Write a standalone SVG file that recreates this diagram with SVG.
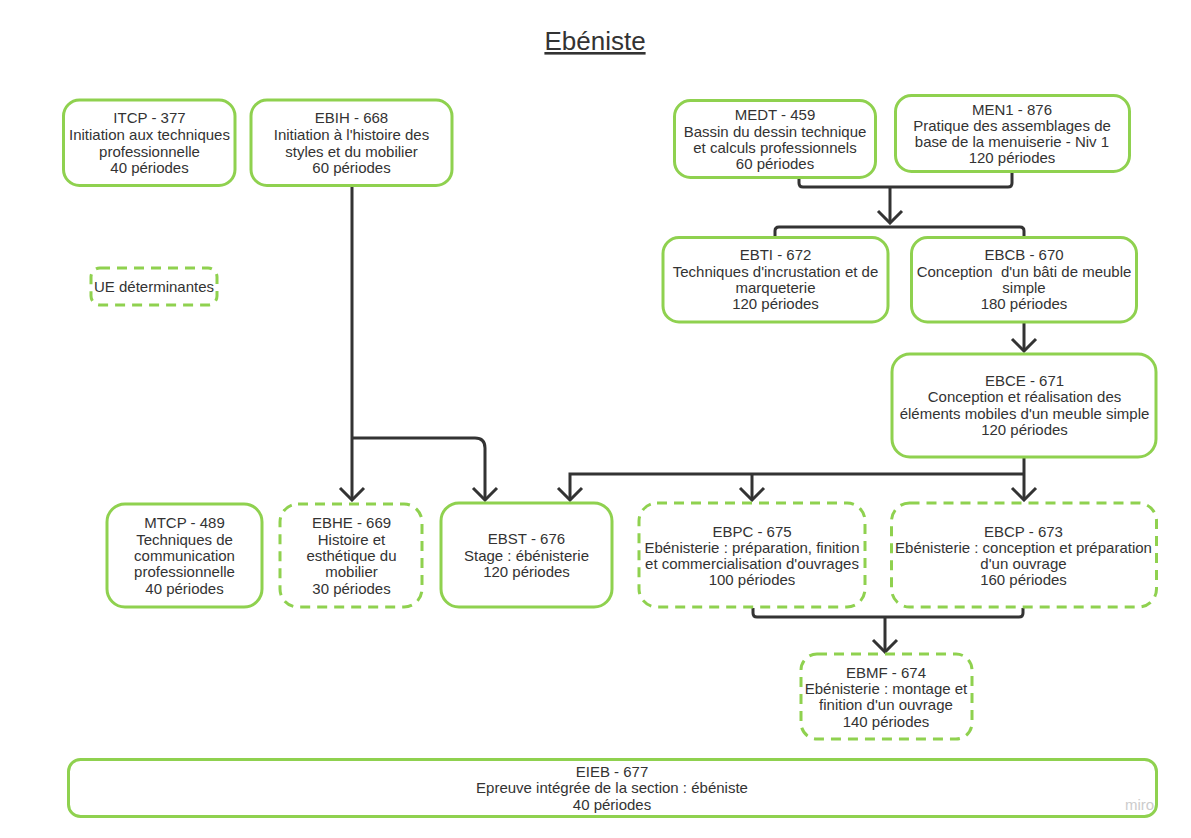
<svg xmlns="http://www.w3.org/2000/svg" width="1191" height="838" viewBox="0 0 1191 838">
<style>
  .box{fill:#ffffff;stroke:#8fd14f;stroke-width:3}
  .dash{fill:#ffffff;stroke:#8fd14f;stroke-width:3;stroke-dasharray:10 7}
  .t{font-family:"Liberation Sans",Arial,sans-serif;font-size:15px;fill:#333333;text-anchor:middle;white-space:pre}
  .title{font-family:"Liberation Sans",Arial,sans-serif;font-size:26px;fill:#333333;text-anchor:middle;text-decoration:underline}
  .wire{fill:none;stroke:#333333;stroke-width:3}
</style>
<defs>
  <marker id="arr" viewBox="-14 -14 16 28" refX="0" refY="0" markerWidth="16" markerHeight="28" markerUnits="userSpaceOnUse" orient="auto">
    <path d="M -12 -12 L 0 0 L -12 12" fill="none" stroke="#333333" stroke-width="3"/>
  </marker>
</defs>
<rect width="1191" height="838" fill="#ffffff"/>
<text class="title" x="595" y="50">Ebéniste</text>

<g id="connectors">
  <path class="wire" d="M 799 179 V 183 Q 799 187 803 187 H 1008 Q 1012 187 1012 183 V 173"/>
  <path class="wire" d="M 890 187 V 223" marker-end="url(#arr)"/>
  <path class="wire" d="M 775 236 V 231 Q 775 227 779 227 H 1020 Q 1024 227 1024 231 V 236"/>
  <path class="wire" d="M 1024 323 V 351" marker-end="url(#arr)"/>
  <path class="wire" d="M 1024 458 V 500" marker-end="url(#arr)"/>
  <path class="wire" d="M 1024 474 H 570 V 500" marker-end="url(#arr)"/>
  <path class="wire" d="M 752 474 V 500" marker-end="url(#arr)"/>
  <path class="wire" d="M 352 186 V 500" marker-end="url(#arr)"/>
  <path class="wire" d="M 352 438 H 475 Q 485 438 485 448 V 500" marker-end="url(#arr)"/>
  <path class="wire" d="M 753 608 V 613 Q 753 617 757 617 H 1019 Q 1023 617 1023 613 V 608"/>
  <path class="wire" d="M 885 617 V 652" marker-end="url(#arr)"/>
</g>

<g id="ITCP">
  <rect class="box" x="63.5" y="100" width="171.5" height="85.5" rx="16"/>
  <text class="t" x="149.5" y="123">ITCP - 377</text>
  <text class="t" x="149.5" y="140">Initiation aux techniques</text>
  <text class="t" x="149.5" y="157">professionnelle</text>
  <text class="t" x="149.5" y="173">40 périodes</text>
</g>
<g id="EBIH">
  <rect class="box" x="251" y="100" width="201" height="85.5" rx="16"/>
  <text class="t" x="351.5" y="123">EBIH - 668</text>
  <text class="t" x="351.5" y="140">Initiation à l'histoire des</text>
  <text class="t" x="351.5" y="157">styles et du mobilier</text>
  <text class="t" x="351.5" y="173">60 périodes</text>
</g>
<g id="MEDT">
  <rect class="box" x="674.5" y="100.5" width="201" height="77" rx="16"/>
  <text class="t" x="775" y="120">MEDT - 459</text>
  <text class="t" x="775" y="137">Bassin du dessin technique</text>
  <text class="t" x="775" y="153">et calculs professionnels</text>
  <text class="t" x="775" y="169">60 périodes</text>
</g>
<g id="MEN1">
  <rect class="box" x="895.5" y="95.5" width="234" height="76" rx="16"/>
  <text class="t" x="1012" y="115">MEN1 - 876</text>
  <text class="t" x="1012" y="131">Pratique des assemblages de</text>
  <text class="t" x="1012" y="147">base de la menuiserie - Niv 1</text>
  <text class="t" x="1012" y="163">120 périodes</text>
</g>
<g id="EBTI">
  <rect class="box" x="663" y="237.5" width="225" height="84.5" rx="16"/>
  <text class="t" x="775.5" y="260">EBTI - 672</text>
  <text class="t" x="775.5" y="277">Techniques d'incrustation et de</text>
  <text class="t" x="775.5" y="293">marqueterie</text>
  <text class="t" x="775.5" y="309">120 périodes</text>
</g>
<g id="EBCB">
  <rect class="box" x="911.5" y="237.5" width="225" height="84.5" rx="16"/>
  <text class="t" x="1024" y="260">EBCB - 670</text>
  <text class="t" x="1024" y="277">Conception  d'un bâti de meuble</text>
  <text class="t" x="1024" y="293">simple</text>
  <text class="t" x="1024" y="309">180 périodes</text>
</g>
<g id="EBCE">
  <rect class="box" x="892" y="354" width="264" height="103" rx="18"/>
  <text class="t" x="1024.5" y="386">EBCE - 671</text>
  <text class="t" x="1024.5" y="402">Conception et réalisation des</text>
  <text class="t" x="1024.5" y="419">éléments mobiles d'un meuble simple</text>
  <text class="t" x="1024.5" y="435">120 périodes</text>
</g>
<g id="UE">
  <rect class="dash" x="91" y="268" width="126" height="37" rx="9"/>
  <text class="t" x="154" y="292">UE déterminantes</text>
</g>
<g id="MTCP">
  <rect class="box" x="107" y="504" width="155" height="103" rx="18"/>
  <text class="t" x="184.5" y="528">MTCP - 489</text>
  <text class="t" x="184.5" y="545">Techniques de</text>
  <text class="t" x="184.5" y="561">communication</text>
  <text class="t" x="184.5" y="577">professionnelle</text>
  <text class="t" x="184.5" y="594">40 périodes</text>
</g>
<g id="EBHE">
  <rect class="dash" x="280" y="504" width="142" height="103" rx="18"/>
  <text class="t" x="351.5" y="528">EBHE - 669</text>
  <text class="t" x="351.5" y="545">Histoire et</text>
  <text class="t" x="351.5" y="561">esthétique du</text>
  <text class="t" x="351.5" y="577">mobilier</text>
  <text class="t" x="351.5" y="594">30 périodes</text>
</g>
<g id="EBST">
  <rect class="box" x="441" y="503" width="171" height="104" rx="18"/>
  <text class="t" x="526.5" y="544">EBST - 676</text>
  <text class="t" x="526.5" y="561">Stage : ébénisterie</text>
  <text class="t" x="526.5" y="577">120 périodes</text>
</g>
<g id="EBPC">
  <rect class="dash" x="639" y="503" width="226" height="104" rx="18"/>
  <text class="t" x="752" y="537">EBPC - 675</text>
  <text class="t" x="752" y="553">Ebénisterie : préparation, finition</text>
  <text class="t" x="752" y="569">et commercialisation d'ouvrages</text>
  <text class="t" x="752" y="585">100 périodes</text>
</g>
<g id="EBCP">
  <rect class="dash" x="891.5" y="503" width="265" height="104" rx="18"/>
  <text class="t" x="1023.5" y="537">EBCP - 673</text>
  <text class="t" x="1023.5" y="553">Ebénisterie : conception et préparation</text>
  <text class="t" x="1023.5" y="569">d'un ouvrage</text>
  <text class="t" x="1023.5" y="585">160 périodes</text>
</g>
<g id="EBMF">
  <rect class="dash" x="801" y="654" width="171" height="85" rx="16"/>
  <text class="t" x="886" y="678">EBMF - 674</text>
  <text class="t" x="886" y="694">Ebénisterie : montage et</text>
  <text class="t" x="886" y="710">finition d'un ouvrage</text>
  <text class="t" x="886" y="727">140 périodes</text>
</g>
<g id="EIEB">
  <rect class="box" x="68.5" y="759.5" width="1088" height="57" rx="12"/>
  <text class="t" x="612" y="777">EIEB - 677</text>
  <text class="t" x="612" y="793">Epreuve intégrée de la section : ébéniste</text>
  <text class="t" x="612" y="810">40 périodes</text>
</g>
<text x="1125" y="810" font-family="'Liberation Sans',Arial,sans-serif" font-size="15" fill="#cccccc">miro</text>
</svg>
